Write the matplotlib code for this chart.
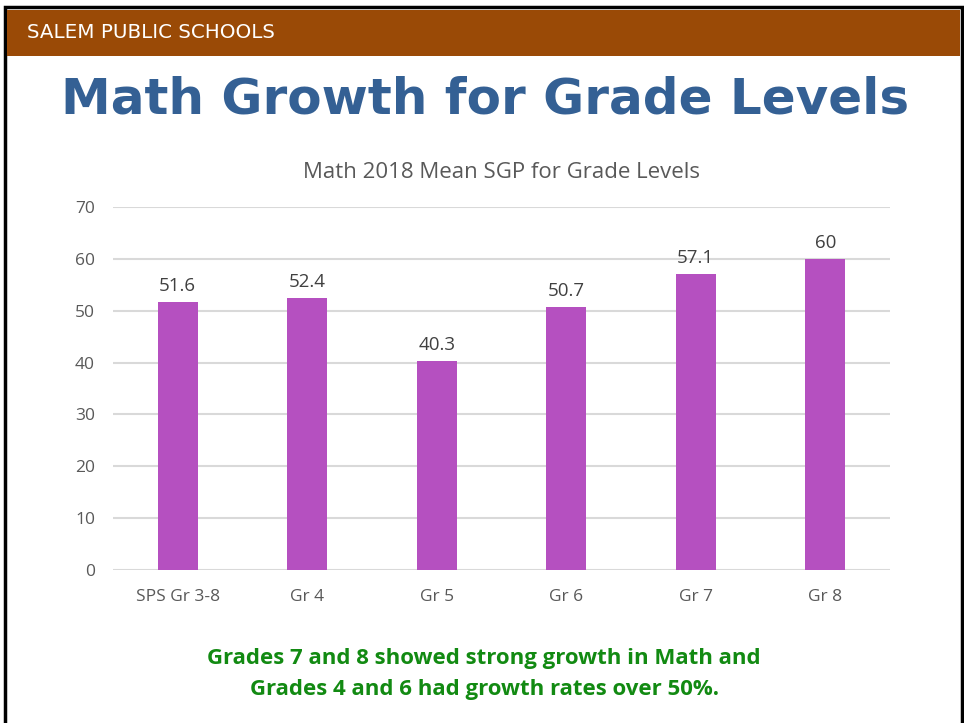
import matplotlib
matplotlib.use("Agg")
import matplotlib.pyplot as plt
from matplotlib.patches import Rectangle

# chart data
categories = ["SPS Gr 3-8", "Gr 4", "Gr 5", "Gr 6", "Gr 7", "Gr 8"]
mean_sgp = [51.6, 52.4, 40.3, 50.7, 57.1, 60]
value_labels = ["51.6", "52.4", "40.3", "50.7", "57.1", "60"]
y_ticks = [0, 10, 20, 30, 40, 50, 60, 70]

W, H = 964, 723
fig = plt.figure(figsize=(W / 100, H / 100), dpi=100)
fig.patch.set_facecolor("white")

# slide frame and header band
fig.patches.append(Rectangle((5 / W, -0.01), 957 / W, 1 - 7 / H + 0.01, transform=fig.transFigure,
                             facecolor="none", edgecolor="black", linewidth=2.5, zorder=0))
fig.patches.append(Rectangle((7 / W, 1 - 56 / H), 953 / W, 46 / H, transform=fig.transFigure,
                             facecolor="#9A4A06", edgecolor="none", zorder=1))
fig.text(27 / W, 1 - 33 / H, "SALEM PUBLIC SCHOOLS", color="white", fontsize=14.3,
         family="DejaVu Sans", va="center", ha="left")

fig.text(0.5 * (65 + 905) / W, 1 - 99 / H, "Math Growth for Grade Levels", color="#346094",
         fontsize=36, fontweight="bold", family="DejaVu Sans", ha="center", va="center")

ax = fig.add_axes([113 / W, 1 - 570 / H, 777 / W, 363 / H])
x = range(len(categories))
ax.bar(x, mean_sgp, width=0.31, color="#B550C0", zorder=3)
for i, v in enumerate(mean_sgp):
    ax.text(i, v + 1.4, value_labels[i], ha="center", va="bottom", fontsize=13.5,
            color="#404040", family="Open Sans")

ax.set_xlim(-0.5, len(categories) - 0.5)
ax.set_ylim(0, 70)
ax.set_yticks(y_ticks)
ax.set_xticks(list(x))
ax.set_xticklabels(categories)
ax.yaxis.grid(True, color="#D9D9D9", linewidth=1.5, zorder=0)
for s in ax.spines.values():
    s.set_visible(False)
ax.tick_params(length=0, labelsize=12.5, labelcolor="#595959", pad=14)
ax.tick_params(axis="y", pad=13)
for lab in ax.get_xticklabels() + ax.get_yticklabels():
    lab.set_family("Open Sans")
ax.set_title("Math 2018 Mean SGP for Grade Levels", fontsize=16, color="#595959",
             family="Open Sans", pad=21)

fig.text(0.5 * (205 + 763) / W, 1 - 674 / H,
         "Grades 7 and 8 showed strong growth in Math and\nGrades 4 and 6 had growth rates over 50%.",
         color="#128A12", fontsize=16, fontweight="bold", family="Open Sans",
         ha="center", va="center", linespacing=1.6)

fig.savefig("out.png", dpi=100)
